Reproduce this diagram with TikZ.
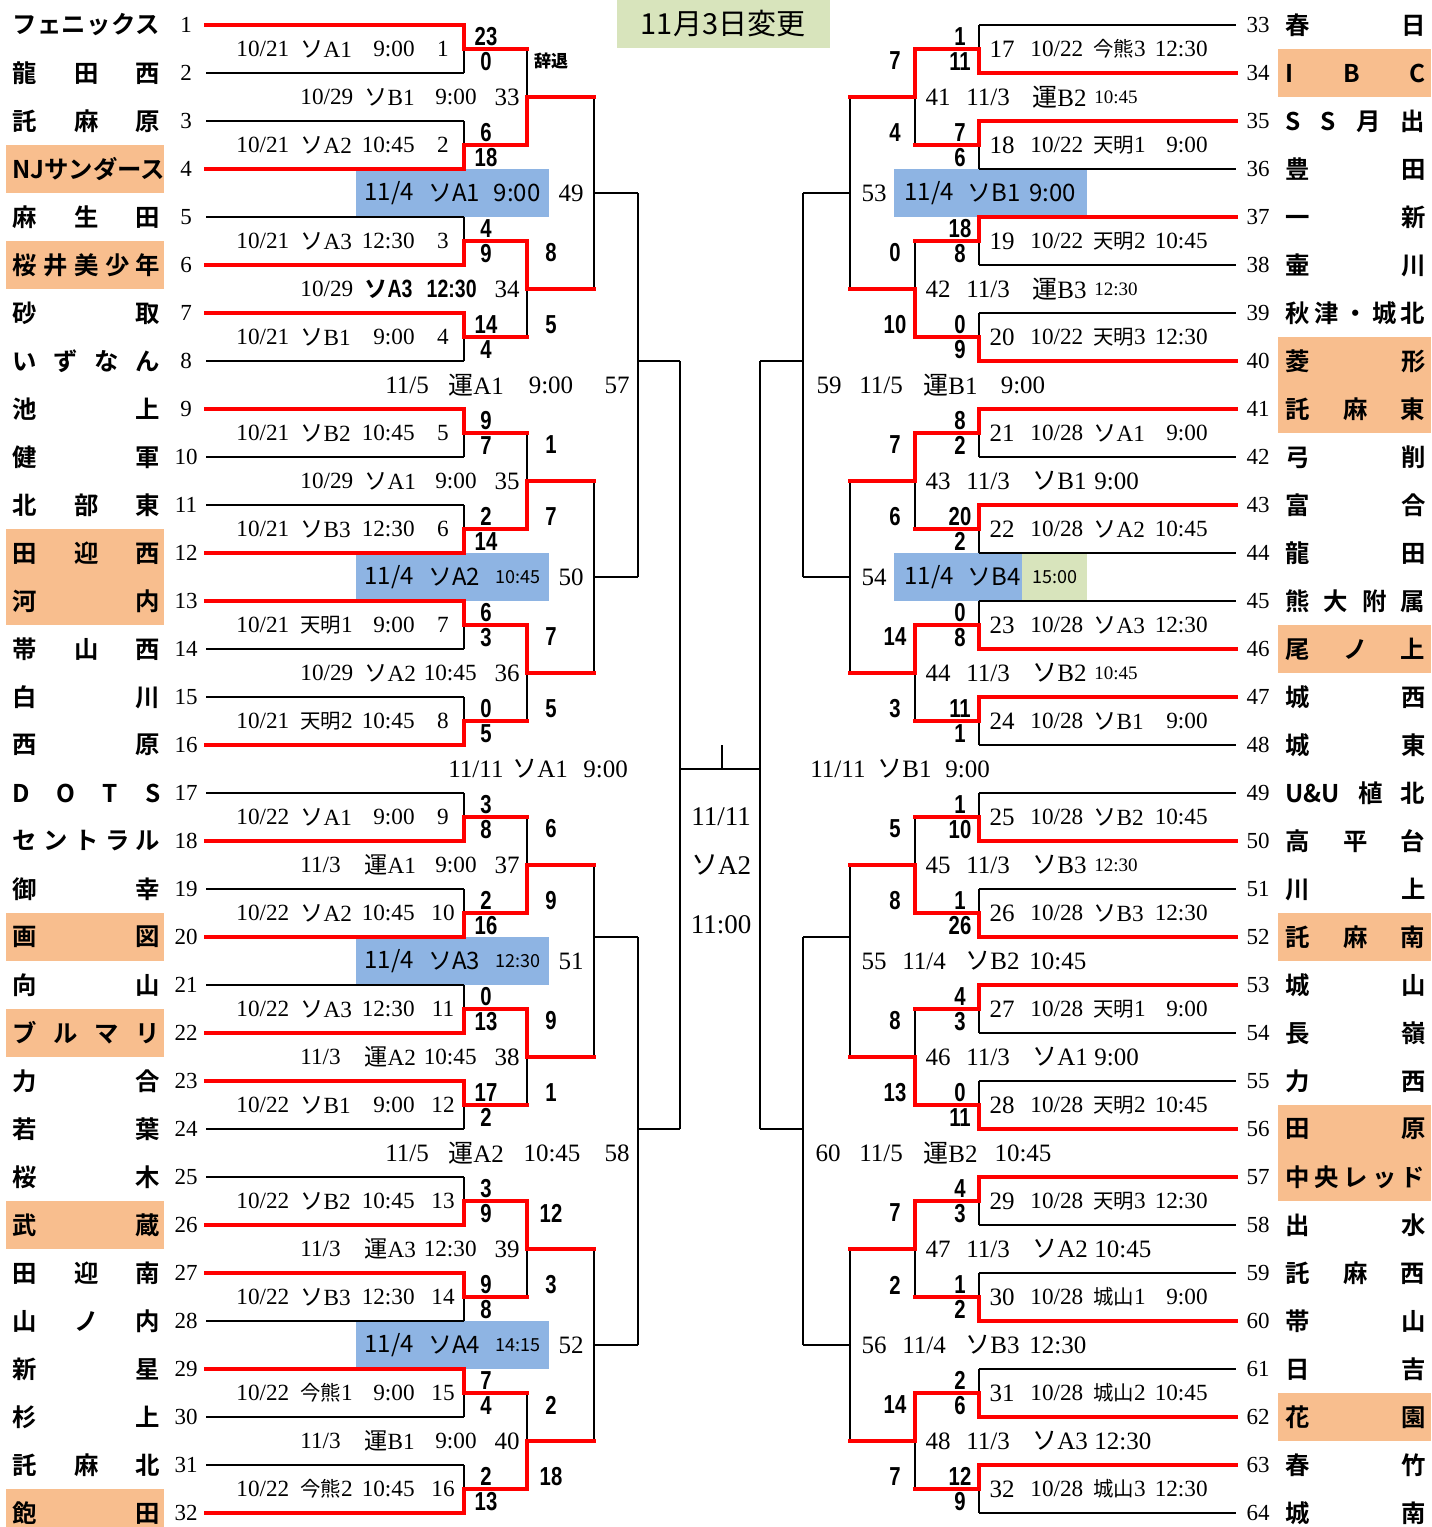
\documentclass[tikz,border=0pt]{standalone}
\usepackage{fontspec}
\setmainfont{Liberation Serif}
\newfontfamily\jp{Noto Sans CJK JP}
\newfontfamily\jpb{Noto Sans CJK JP Bold}
\newfontfamily\scf{Liberation Sans}[FakeStretch=0.78]
\pgfdeclarelayer{bg}\pgfdeclarelayer{fg}\pgfsetlayers{bg,main,fg}
\definecolor{orangebg}{RGB}{248,190,142}
\definecolor{bluebg}{RGB}{142,180,227}
\definecolor{greenbg}{RGB}{216,228,188}
\newcommand\V[1]{{\jp #1}}
\newcommand\Vs[1]{{\jp\fontsize{10.2}{10.2}\selectfont #1}}
\newcommand\smt{\fontsize{9}{9}\selectfont}
\newcommand\smb{\fontsize{9.5}{9.5}\selectfont}
\tikzset{
 blk/.style={line width=1.4pt, black},
 redl/.style={line width=2.3pt, red, line join=miter, line cap=rect},
 lab/.style={inner sep=0pt, font=\fontsize{11.6}{11.6}\selectfont},
 labb/.style={inner sep=0pt, font=\fontsize{12.5}{12.5}\selectfont},
 sc/.style={inner sep=0pt, font=\scf\bfseries\fontsize{13}{13}\selectfont},
 tnum/.style={inner sep=0pt, font=\fontsize{11.5}{11.5}\selectfont},
 tname/.style={inner sep=0pt, anchor=west, font=\jpb\fontsize{12.2}{12.2}\selectfont},
 bx/.style={inner sep=0pt, font=\jp\fontsize{12}{12}\selectfont},
 fin/.style={inner sep=0pt, font=\fontsize{13.5}{13.5}\selectfont},
}
% ---------- teams ----------
\newcommand\teamL[3]{%
 \pgfmathsetmacro\myY{25+48*(#1-1)}%
 \ifnum#3=1 \begin{pgfonlayer}{bg}\fill[orangebg] (6,\myY-24) rectangle (164,\myY+24);\end{pgfonlayer}\fi
 \node[tname] (tL#1) at (12,\myY) {\makebox[74pt][s]{#2}};
 \node[tnum] (nL#1) at (186,\myY) {#1};
 \draw[blk] (206,\myY) -- (464,\myY);
}
\newcommand\teamR[3]{%
 \pgfmathsetmacro\myY{25+48*(#1-33)}%
 \ifnum#3=1 \begin{pgfonlayer}{bg}\fill[orangebg] (1278,\myY-24) rectangle (1431,\myY+24);\end{pgfonlayer}\fi
 \node[tname] (tR#1) at (1285,\myY) {\makebox[70pt][s]{#2}};
 \node[tnum] (nR#1) at (1258,\myY) {#1};
 \draw[blk] (979,\myY) -- (1236,\myY);
}
% ---------- round 1 ----------
\newcommand\RoneL[7]{%
 \pgfmathsetmacro\myT{25+96*(#1-1)}%
 \pgfmathsetmacro\myB{\myT+48}%
 \pgfmathsetmacro\myM{\myT+24}%
 \pgfmathsetmacro\myW{\myT+48*#2}%
 \draw[blk] (464,\myT) -- (464,\myB);
 \draw[blk] (464,\myM) -- (527,\myM);
 \begin{pgfonlayer}{fg}\draw[redl] (206,\myW) -| (464,\myM) -- (527,\myM);\end{pgfonlayer}
 \node[sc] (aL#1) at (486,\myM-12.5) {#3};
 \node[sc] (bL#1) at (486,\myM+12.5) {#4};
 \node[lab,anchor=west] (dL#1) at (236,\myM) {#5};
 \node[lab,anchor=west] (vL#1) at (300,\myM) {#6};
 \node[lab,anchor=east] (hL#1) at (415,\myM) {#7};
 \node[lab] (kL#1) at (443,\myM) {#1};
}
\newcommand\RoneR[7]{%
 \pgfmathsetmacro\myT{25+96*(#1-1)}%
 \pgfmathsetmacro\myB{\myT+48}%
 \pgfmathsetmacro\myM{\myT+24}%
 \pgfmathsetmacro\myW{\myT+48*#2}%
 \pgfmathtruncatemacro\myN{#1+16}%
 \draw[blk] (979,\myT) -- (979,\myB);
 \draw[blk] (979,\myM) -- (915,\myM);
 \begin{pgfonlayer}{fg}\draw[redl] (1236,\myW) -| (979,\myM) -- (915,\myM);\end{pgfonlayer}
 \node[sc] (aR#1) at (960,\myM-12.5) {#3};
 \node[sc] (bR#1) at (960,\myM+12.5) {#4};
 \node[labb] (kR#1) at (1002,\myM) {\myN};
 \node[lab,anchor=west] (dR#1) at (1030,\myM) {#5};
 \node[lab,anchor=west] (vR#1) at (1093,\myM) {#6};
 \node[lab,anchor=east] (hR#1) at (1208,\myM) {#7};
}
% ---------- round 2 ----------
\newcommand\RtwoL[8]{%
 \pgfmathsetmacro\myA{49+192*(#1-1)}%
 \pgfmathsetmacro\myC{\myA+48}%
 \pgfmathsetmacro\myZ{\myA+96}%
 \pgfmathsetmacro\myW{\myA+96*#2}%
 \draw[blk] (527,\myA) -- (527,\myZ);
 \draw[blk] (527,\myC) -- (594,\myC);
 \begin{pgfonlayer}{fg}\draw[redl] (527,\myW) -- (527,\myC) -- (594,\myC);\end{pgfonlayer}
 \node[sc] (aM#1) at (551,\myC-36) {#3};
 \node[sc] (bM#1) at (551,\myC+36) {#4};
 \node[lab,anchor=west] (dM#1) at (300,\myC) {#5};
 \node[lab,anchor=west] (vM#1) at (364,\myC) {#6};
 \node[lab,anchor=east] (hM#1) at (477,\myC) {#7};
 \node[labb] (kM#1) at (507,\myC) {#8};
}
\newcommand\RtwoR[8]{%
 \pgfmathsetmacro\myA{49+192*(#1-1)}%
 \pgfmathsetmacro\myC{\myA+48}%
 \pgfmathsetmacro\myZ{\myA+96}%
 \pgfmathsetmacro\myW{\myA+96*#2}%
 \draw[blk] (915,\myA) -- (915,\myZ);
 \draw[blk] (915,\myC) -- (850,\myC);
 \begin{pgfonlayer}{fg}\draw[redl] (915,\myW) -- (915,\myC) -- (850,\myC);\end{pgfonlayer}
 \node[sc] (aS#1) at (895,\myC-36) {#3};
 \node[sc] (bS#1) at (895,\myC+36) {#4};
 \node[labb] (kS#1) at (938,\myC) {#8};
 \node[labb,anchor=west] (dS#1) at (966,\myC) {#5};
 \node[labb,anchor=west] (vS#1) at (1032,\myC) {#6};
 \node[labb,anchor=west] (hS#1) at (1094,\myC) {#7};
}
% ---------- round 3 ----------
\newcommand\RthreeL[5]{%
 \pgfmathsetmacro\myC{193+384*(#1-1)}%
 \begin{pgfonlayer}{bg}\fill[bluebg] (356,\myC-24) rectangle (549,\myC+24);\end{pgfonlayer}
 \draw[blk] (594,\myC-96) -- (594,\myC+96);
 \draw[blk] (594,#2) -- (638,#2);
 \node[bx,anchor=west] (dN#1) at (364,\myC) {11/4};
 \node[bx,anchor=west] (vN#1) at (428,\myC) {#3};
 \node[bx,anchor=east] (hN#1) at (541,\myC) {#4};
 \node[labb] (kN#1) at (571,\myC) {#5};
}
\newcommand\RthreeR[2]{%
 \pgfmathsetmacro\myC{193+384*(#1-1)}%
 \draw[blk] (850,\myC-96) -- (850,\myC+96);
 \draw[blk] (850,#2) -- (803,#2);
}
\begin{document}
\begin{tikzpicture}[x=0.5pt,y=-0.5pt]
\useasboundingbox (0,0) rectangle (1431,1527);
% title
\fill[greenbg] (617,0) rectangle (830,48);
\node[inner sep=0pt, font=\jp\fontsize{14.5}{14.5}\selectfont] (title) at (723,24) {11月3日変更};
% left teams
\teamL{1}{フ\hfill ェ\hfill ニ\hfill ッ\hfill ク\hfill ス}{0}
\teamL{2}{龍\hfill 田\hfill 西}{0}
\teamL{3}{託\hfill 麻\hfill 原}{0}
\teamL{4}{NJサンダース\hfill}{1}
\teamL{5}{麻\hfill 生\hfill 田}{0}
\teamL{6}{桜\hfill 井\hfill 美\hfill 少\hfill 年}{1}
\teamL{7}{砂\hfill 取}{0}
\teamL{8}{い\hfill ず\hfill な\hfill ん}{0}
\teamL{9}{池\hfill 上}{0}
\teamL{10}{健\hfill 軍}{0}
\teamL{11}{北\hfill 部\hfill 東}{0}
\teamL{12}{田\hfill 迎\hfill 西}{1}
\teamL{13}{河\hfill 内}{1}
\teamL{14}{帯\hfill 山\hfill 西}{0}
\teamL{15}{白\hfill 川}{0}
\teamL{16}{西\hfill 原}{0}
\teamL{17}{D\hfill O\hfill T\hfill S}{0}
\teamL{18}{セ\hfill ン\hfill ト\hfill ラ\hfill ル}{0}
\teamL{19}{御\hfill 幸}{0}
\teamL{20}{画\hfill 図}{1}
\teamL{21}{向\hfill 山}{0}
\teamL{22}{ブ\hfill ル\hfill マ\hfill リ}{1}
\teamL{23}{力\hfill 合}{0}
\teamL{24}{若\hfill 葉}{0}
\teamL{25}{桜\hfill 木}{0}
\teamL{26}{武\hfill 蔵}{1}
\teamL{27}{田\hfill 迎\hfill 南}{0}
\teamL{28}{山\hfill ノ\hfill 内}{0}
\teamL{29}{新\hfill 星}{0}
\teamL{30}{杉\hfill 上}{0}
\teamL{31}{託\hfill 麻\hfill 北}{0}
\teamL{32}{飽\hfill 田}{1}
% right teams
\teamR{33}{春\hfill 日}{0}
\teamR{34}{I\hfill B\hfill C}{1}
\teamR{35}{S\hfill S\hfill 月\hfill 出}{0}
\teamR{36}{豊\hfill 田}{0}
\teamR{37}{一\hfill 新}{0}
\teamR{38}{壷\hfill 川}{0}
\teamR{39}{秋\hfill 津\hfill ・\hfill 城\hfill 北}{0}
\teamR{40}{菱\hfill 形}{1}
\teamR{41}{託\hfill 麻\hfill 東}{1}
\teamR{42}{弓\hfill 削}{0}
\teamR{43}{富\hfill 合}{0}
\teamR{44}{龍\hfill 田}{0}
\teamR{45}{熊\hfill 大\hfill 附\hfill 属}{0}
\teamR{46}{尾\hfill ノ\hfill 上}{1}
\teamR{47}{城\hfill 西}{0}
\teamR{48}{城\hfill 東}{0}
\teamR{49}{U\&U\hfill 植\hfill 北}{0}
\teamR{50}{高\hfill 平\hfill 台}{0}
\teamR{51}{川\hfill 上}{0}
\teamR{52}{託\hfill 麻\hfill 南}{1}
\teamR{53}{城\hfill 山}{0}
\teamR{54}{長\hfill 嶺}{0}
\teamR{55}{力\hfill 西}{0}
\teamR{56}{田\hfill 原}{1}
\teamR{57}{中\hfill 央\hfill レ\hfill ッ\hfill ド}{1}
\teamR{58}{出\hfill 水}{0}
\teamR{59}{託\hfill 麻\hfill 西}{0}
\teamR{60}{帯\hfill 山}{0}
\teamR{61}{日\hfill 吉}{0}
\teamR{62}{花\hfill 園}{1}
\teamR{63}{春\hfill 竹}{0}
\teamR{64}{城\hfill 南}{0}
% left round 1
\RoneL{1}{0}{23}{0}{10/21}{\V{ソ}A1}{9:00}
\RoneL{2}{1}{6}{18}{10/21}{\V{ソ}A2}{10:45}
\RoneL{3}{1}{4}{9}{10/21}{\V{ソ}A3}{12:30}
\RoneL{4}{0}{14}{4}{10/21}{\V{ソ}B1}{9:00}
\RoneL{5}{0}{9}{7}{10/21}{\V{ソ}B2}{10:45}
\RoneL{6}{1}{2}{14}{10/21}{\V{ソ}B3}{12:30}
\RoneL{7}{0}{6}{3}{10/21}{\Vs{天明}1}{9:00}
\RoneL{8}{1}{0}{5}{10/21}{\Vs{天明}2}{10:45}
\RoneL{9}{1}{3}{8}{10/22}{\V{ソ}A1}{9:00}
\RoneL{10}{1}{2}{16}{10/22}{\V{ソ}A2}{10:45}
\RoneL{11}{1}{0}{13}{10/22}{\V{ソ}A3}{12:30}
\RoneL{12}{0}{17}{2}{10/22}{\V{ソ}B1}{9:00}
\RoneL{13}{1}{3}{9}{10/22}{\V{ソ}B2}{10:45}
\RoneL{14}{0}{9}{8}{10/22}{\V{ソ}B3}{12:30}
\RoneL{15}{0}{7}{4}{10/22}{\Vs{今熊}1}{9:00}
\RoneL{16}{1}{2}{13}{10/22}{\Vs{今熊}2}{10:45}
% right round 1
\RoneR{1}{1}{1}{11}{10/22}{\Vs{今熊}3}{12:30}
\RoneR{2}{0}{7}{6}{10/22}{\Vs{天明}1}{9:00}
\RoneR{3}{0}{18}{8}{10/22}{\Vs{天明}2}{10:45}
\RoneR{4}{1}{0}{9}{10/22}{\Vs{天明}3}{12:30}
\RoneR{5}{0}{8}{2}{10/28}{\V{ソ}A1}{9:00}
\RoneR{6}{0}{20}{2}{10/28}{\V{ソ}A2}{10:45}
\RoneR{7}{1}{0}{8}{10/28}{\V{ソ}A3}{12:30}
\RoneR{8}{0}{11}{1}{10/28}{\V{ソ}B1}{9:00}
\RoneR{9}{1}{1}{10}{10/28}{\V{ソ}B2}{10:45}
\RoneR{10}{1}{1}{26}{10/28}{\V{ソ}B3}{12:30}
\RoneR{11}{0}{4}{3}{10/28}{\Vs{天明}1}{9:00}
\RoneR{12}{1}{0}{11}{10/28}{\Vs{天明}2}{10:45}
\RoneR{13}{0}{4}{3}{10/28}{\Vs{天明}3}{12:30}
\RoneR{14}{1}{1}{2}{10/28}{\Vs{城山}1}{9:00}
\RoneR{15}{1}{2}{6}{10/28}{\Vs{城山}2}{10:45}
\RoneR{16}{0}{12}{9}{10/28}{\Vs{城山}3}{12:30}
% left round 2
\RtwoL{1}{1}{\jpb\fontsize{8.5}{8.5}\selectfont 辞退}{}{10/29}{\V{ソ}B1}{9:00}{33}
\RtwoL{2}{0}{8}{5}{10/29}{{\jpb ソ}{\scf\bfseries\fontsize{12.5}{12.5}\selectfont A3}}{{\scf\bfseries\fontsize{12.5}{12.5}\selectfont 12:30}}{34}
\RtwoL{3}{1}{1}{7}{10/29}{\V{ソ}A1}{9:00}{35}
\RtwoL{4}{0}{7}{5}{10/29}{\V{ソ}A2}{10:45}{36}
\RtwoL{5}{1}{6}{9}{11/3}{\V{運}A1}{9:00}{37}
\RtwoL{6}{0}{9}{1}{11/3}{\V{運}A2}{10:45}{38}
\RtwoL{7}{0}{12}{3}{11/3}{\V{運}A3}{12:30}{39}
\RtwoL{8}{1}{2}{18}{11/3}{\V{運}B1}{9:00}{40}
% right round 2
\RtwoR{1}{0}{7}{4}{11/3}{\V{運}B2}{\smb 10:45}{41}
\RtwoR{2}{1}{0}{10}{11/3}{\V{運}B3}{\smb 12:30}{42}
\RtwoR{3}{0}{7}{6}{11/3}{\V{ソ}B1}{9:00}{43}
\RtwoR{4}{0}{14}{3}{11/3}{\V{ソ}B2}{\smb 10:45}{44}
\RtwoR{5}{1}{5}{8}{11/3}{\V{ソ}B3}{\smb 12:30}{45}
\RtwoR{6}{1}{8}{13}{11/3}{\V{ソ}A1}{9:00}{46}
\RtwoR{7}{0}{7}{2}{11/3}{\V{ソ}A2}{10:45}{47}
\RtwoR{8}{0}{14}{7}{11/3}{\V{ソ}A3}{12:30}{48}
% left round 3
\RthreeL{1}{193}{ソA1}{9:00}{49}
\RthreeL{2}{577}{ソA2}{\smt 10:45}{50}
\RthreeL{3}{937}{ソA3}{\smt 12:30}{51}
\RthreeL{4}{1345}{ソA4}{\smt 14:15}{52}
% right round 3
\RthreeR{1}{193}
\RthreeR{2}{577}
\RthreeR{3}{937}
\RthreeR{4}{1345}
\begin{pgfonlayer}{bg}
\fill[bluebg] (894,169) rectangle (1087,217);
\fill[bluebg] (894,553) rectangle (1022,601);
\fill[greenbg] (1022,553) rectangle (1087,601);
\end{pgfonlayer}
\node[labb] (k53) at (874,193) {53};
\node[bx,anchor=west] (d53) at (904,193) {11/4};
\node[bx,anchor=west] (v53) at (967,193) {ソB1};
\node[bx,anchor=west] (h53) at (1029,193) {9:00};
\node[labb] (k54) at (874,577) {54};
\node[bx,anchor=west] (d54) at (904,577) {11/4};
\node[bx,anchor=west] (v54) at (967,577) {ソB4};
\node[bx] (h54) at (1055,577) {\smt 15:00};
\node[labb] (k55) at (874,961) {55};
\node[labb,anchor=west] (d55) at (902,961) {11/4};
\node[labb,anchor=west] (v55) at (965,961) {\V{ソ}B2};
\node[labb,anchor=west] (h55) at (1029,961) {10:45};
\node[labb] (k56) at (874,1345) {56};
\node[labb,anchor=west] (d56) at (902,1345) {11/4};
\node[labb,anchor=west] (v56) at (965,1345) {\V{ソ}B3};
\node[labb,anchor=west] (h56) at (1029,1345) {12:30};
% round 4
\draw[blk] (638,193) -- (638,577);
\draw[blk] (638,937) -- (638,1345);
\draw[blk] (638,361) -- (680,361);
\draw[blk] (638,1129) -- (680,1129);
\draw[blk] (803,193) -- (803,577);
\draw[blk] (803,937) -- (803,1345);
\draw[blk] (803,361) -- (760,361);
\draw[blk] (803,1129) -- (760,1129);
\node[labb,anchor=west] (d57) at (385,385) {11/5};
\node[labb,anchor=west] (v57) at (448,385) {\V{運}A1};
\node[labb] (h57) at (551,385) {9:00};
\node[labb] (k57) at (617,385) {57};
\node[labb,anchor=west] (d58) at (385,1153) {11/5};
\node[labb,anchor=west] (v58) at (448,1153) {\V{運}A2};
\node[labb] (h58) at (552,1153) {10:45};
\node[labb] (k58) at (617,1153) {58};
\node[labb] (k59) at (829,385) {59};
\node[labb,anchor=west] (d59) at (859,385) {11/5};
\node[labb,anchor=west] (v59) at (923,385) {\V{運}B1};
\node[labb] (h59) at (1023,385) {9:00};
\node[labb] (k60) at (828,1153) {60};
\node[labb,anchor=west] (d60) at (859,1153) {11/5};
\node[labb,anchor=west] (v60) at (923,1153) {\V{運}B2};
\node[labb] (h60) at (1023,1153) {10:45};
% semifinals and final
\draw[blk] (680,361) -- (680,1129);
\draw[blk] (760,361) -- (760,1129);
\draw[blk] (680,769) -- (760,769);
\draw[blk] (722,745) -- (722,769);
\node[labb,anchor=west] (dSL) at (448,769) {11/11};
\node[labb,anchor=west] (vSL) at (512,769) {\V{ソ}A1};
\node[labb,anchor=west] (hSL) at (583,769) {9:00};
\node[labb,anchor=west] (dSR) at (810,769) {11/11};
\node[labb,anchor=west] (vSR) at (877,769) {\V{ソ}B1};
\node[labb,anchor=west] (hSR) at (945,769) {9:00};
\node[fin] (f1) at (721,817) {11/11};
\node[fin] (f2) at (721,865) {\V{ソ}A2};
\node[fin] (f3) at (721,925) {11:00};
\end{tikzpicture}
\end{document}
